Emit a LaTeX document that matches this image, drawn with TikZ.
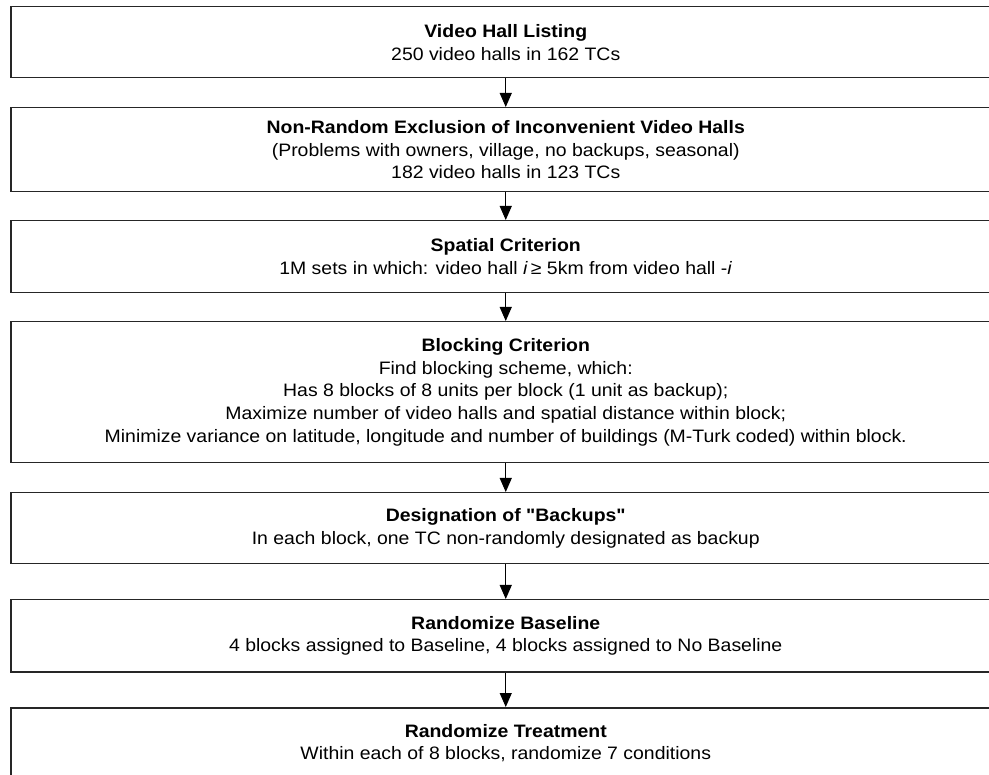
\documentclass[tikz,border=0pt]{standalone}
\usepackage{fontspec}
\setmainfont{Liberation Sans}[Ligatures=TeXOff, FakeStretch=1.08]
\usetikzlibrary{arrows.meta}
\begin{document}
\begin{tikzpicture}[x=1pt,y=-1pt,
  box/.style={draw=black!85, line width=1.5pt, minimum width=990pt, anchor=north west, inner sep=0pt,
    align=center, font=\fontsize{18}{22.7}\selectfont},
  arr/.style={line width=1.1pt, -{Triangle[length=14pt,width=12pt]}}]
\useasboundingbox (0,0) rectangle (989,775);
\clip (0,0) rectangle (989,775);
\node[box, minimum height=71pt] (b1) at (10,6) {\textbf{Video Hall Listing}\\250 video halls in 162 TCs};
\node[box, minimum height=84pt] (b2) at (10,107) {\textbf{Non-Random Exclusion of Inconvenient Video Halls}\\(Problems with owners, village, no backups, seasonal)\\182 video halls in 123 TCs};
\node[box, minimum height=72pt] (b3) at (10,220) {\textbf{Spatial Criterion}\\1M sets in which: video hall \textit{i}\,≥ 5km from video hall -\textit{i}};
\node[box, minimum height=141pt] (b4) at (10,321) {\textbf{Blocking Criterion}\\Find blocking scheme, which:\\Has 8 blocks of 8 units per block (1 unit as backup);\\Maximize number of video halls and spatial distance within block;\\Minimize variance on latitude, longitude and number of buildings (M-Turk coded) within block.};
\node[box, minimum height=71pt] (b5) at (10,492) {\textbf{Designation of "Backups"}\\In each block, one TC non-randomly designated as backup};
\node[box, minimum height=72pt] (b6) at (10,599) {\textbf{Randomize Baseline}\\4 blocks assigned to Baseline, 4 blocks assigned to No Baseline};
\node[box, minimum height=71pt] (b7) at (10,707) {\textbf{Randomize Treatment}\\Within each of 8 blocks, randomize 7 conditions};
\draw[arr] (b1.south) -- (b2.north);
\draw[arr] (b2.south) -- (b3.north);
\draw[arr] (b3.south) -- (b4.north);
\draw[arr] (b4.south) -- (b5.north);
\draw[arr] (b5.south) -- (b6.north);
\draw[arr] (b6.south) -- (b7.north);
\end{tikzpicture}
\end{document}
